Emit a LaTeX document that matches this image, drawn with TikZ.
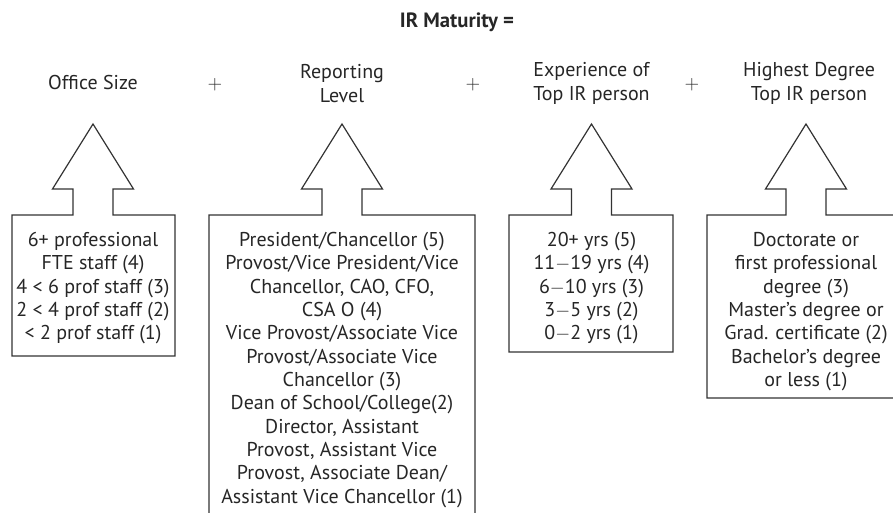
\documentclass[tikz,border=0pt]{standalone}
\usepackage{fontspec}
\setmainfont{PT Sans}
\usetikzlibrary{positioning}

\begin{document}
\begin{tikzpicture}[x=0.75pt,y=-0.75pt,
  every node/.style={font=\fontsize{15}{17.5}\selectfont,text=black!85,inner sep=0pt},
  outline/.style={draw=black!80,line width=0.9pt},
  listtext/.style={align=center,anchor=north}]
\useasboundingbox (0,0) rectangle (893,513);
\clip (0,0) rectangle (893,513);
% title
\node[font=\bfseries\fontsize{15.5}{17.5}\selectfont] (title) at (457,22) {IR Maturity =};
% headings
\node (hsize) at (93,83) {Office Size};
\node[align=center] (hlevel) at (342,83.5) {Reporting\\Level};
\node[align=center] (hexp) at (591.5,83.5) {Experience of\\Top IR person};
\node[align=center] (hdeg) at (809,83.5) {Highest Degree\\Top IR person};
\node (plusa) at (215,85) {$+$};
\node (plusb) at (473,85) {$+$};
\node (plusc) at (692,85) {$+$};
% arrows with boxes
\draw[outline] (73,215)--(73,189)--(52.5,189)--(93,124)--(133.5,189)--(113,189)--(113,215)
  --(175,215)--(175,356)--(12,356)--(12,215)--cycle;
\draw[outline] (322,215)--(322,189)--(301.5,189)--(342,124)--(382.5,189)--(362,189)--(362,215)
  --(475,215)--(475,520)--(209,520)--(209,215)--cycle;
\draw[outline] (571.5,215)--(571.5,189)--(551,189)--(591.5,124)--(632,189)--(611.5,189)--(611.5,215)
  --(673,215)--(673,352)--(509,352)--(509,215)--cycle;
\draw[outline] (786,215)--(786,189)--(765.5,189)--(806,124)--(846.5,189)--(826,189)--(826,215)
  --(905,215)--(905,398)--(707,398)--(707,215)--cycle;
% box texts
\node[listtext] (tsize) at (93,232) {6+ professional\\FTE staff (4)\\4 < 6 prof staff (3)\\2 < 4 prof staff (2)\\< 2 prof staff (1)};
\node[listtext] (tlevel) at (342,232) {President/Chancellor (5)\\Provost/Vice President/Vice\\Chancellor, CAO, CFO,\\CSA O (4)\\Vice Provost/Associate Vice\\Provost/Associate Vice\\Chancellor (3)\\Dean of School/College(2)\\Director, Assistant\\Provost, Assistant Vice\\Provost, Associate Dean/\\Assistant Vice Chancellor (1)};
\node[listtext] (texp) at (591.5,232) {20+ yrs (5)\\11$-$19 yrs (4)\\6$-$10 yrs (3)\\3$-$5 yrs (2)\\0$-$2 yrs (1)};
\node[listtext] (tdeg) at (806,232) {Doctorate or\\first professional\\degree (3)\\Master’s degree or\\Grad. certificate (2)\\Bachelor’s degree\\or less (1)};
\end{tikzpicture}
\end{document}
